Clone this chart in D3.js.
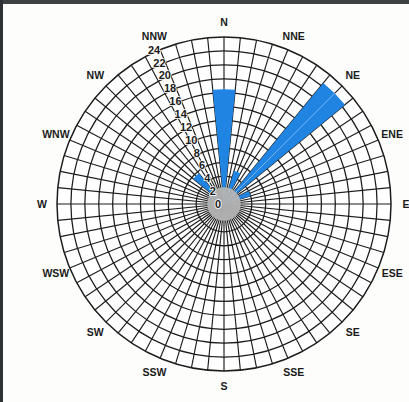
<!DOCTYPE html>
<html>
<head>
<meta charset="utf-8">
<script src="https://cdn.jsdelivr.net/npm/d3@7"></script>
<style>
  html, body { margin: 0; padding: 0; background: #fdfdfb; }
  svg { display: block; }
  text { font-family: "Liberation Sans", Arial, sans-serif; font-weight: bold; fill: #1a1a1a; }
</style>
</head>
<body>
<svg id="rose" width="409" height="402"></svg>
<script>
// Compass points, clockwise from north
const directions = ["N", "NNE", "NE", "ENE", "E", "ESE", "SE", "SSE",
                    "S", "SSW", "SW", "WSW", "W", "WNW", "NW", "NNW"];
// Frequency per direction (%)
const bearings = [0, 22.5, 45, 67.5, 315];
const frequencies = [16.5, 5, 22.5, 4, 5.7];
// Radial tick labels
const radialTicks = [0, 2, 4, 6, 8, 10, 12, 14, 16, 18, 20, 22, 24];

const W = 409, H = 402;
const cx = 224, cy = 204, R = 167;
const spokeCount = 64;
const barWidthDeg = 11.25;

const svg = d3.select("#rose");

// scanned-page edges
svg.append("rect").attr("width", W).attr("height", H).attr("fill", "#fdfdfb");
svg.append("rect").attr("x", 0).attr("y", 0).attr("width", W).attr("height", 4).attr("fill", "#3d4144");
svg.append("rect").attr("x", 0).attr("y", 0).attr("width", 3).attr("height", H).attr("fill", "#2e3235");

const r = d3.scaleLinear().domain([0, 24]).range([0, R]);
const toRad = d => d * Math.PI / 180;

const g = svg.append("g").attr("transform", `translate(${cx},${cy})`);

// white plot disc
g.append("circle").attr("r", R).attr("fill", "#ffffff");

// spokes
const spokes = d3.range(spokeCount).map(i => i * 360 / spokeCount);
g.selectAll("line.spoke")
  .data(spokes)
  .join("line")
  .attr("class", "spoke")
  .attr("x1", 0).attr("y1", 0)
  .attr("x2", d => r(24) * Math.sin(toRad(d)))
  .attr("y2", d => -r(24) * Math.cos(toRad(d)))
  .attr("stroke", "#1c1c1c")
  .attr("stroke-width", 1.15);

// rings
g.selectAll("circle.ring")
  .data(radialTicks.filter(t => t > 0))
  .join("circle")
  .attr("class", "ring")
  .attr("r", d => r(d))
  .attr("fill", "none")
  .attr("stroke", "#1c1c1c")
  .attr("stroke-width", d => d === 24 ? 1.5 : 1.25);

// bars, drawn over the grid
const arc = d3.arc();
g.selectAll("path.bar")
  .data(bearings.map((b, i) => ({ b, v: frequencies[i] })))
  .join("path")
  .attr("class", "bar")
  .attr("d", d => arc({
    innerRadius: 0,
    outerRadius: r(d.v),
    startAngle: toRad(d.b - barWidthDeg / 2),
    endAngle: toRad(d.b + barWidthDeg / 2)
  }))
  .attr("fill", "#1f84e2");

// faint centre line of the NE bar
g.append("line")
  .attr("x1", 0).attr("y1", 0)
  .attr("x2", r(frequencies[2]) * Math.sin(toRad(45)))
  .attr("y2", -r(frequencies[2]) * Math.cos(toRad(45)))
  .attr("stroke", "#8fbde8").attr("stroke-width", 0.8);

// calm centre
g.append("circle").attr("r", r(2.4)).attr("fill", "#b8b8b8").attr("opacity", 0.92);

// radial tick labels along NNW
const la = toRad(337.5);
g.selectAll("text.tick")
  .data(radialTicks)
  .join("text")
  .attr("class", "tick")
  .attr("x", d => r(d) * Math.sin(la) - 6)
  .attr("y", d => -r(d) * Math.cos(la))
  .attr("dy", "0.36em")
  .attr("text-anchor", "middle")
  .attr("font-size", 11)
  .attr("stroke", "#ffffff")
  .attr("stroke-width", 1.6)
  .attr("paint-order", "stroke")
  .text(d => d);

// compass labels
const labelR = 182;
g.selectAll("text.dir")
  .data(directions)
  .join("text")
  .attr("class", "dir")
  .attr("x", (d, i) => labelR * Math.sin(toRad(i * 22.5)))
  .attr("y", (d, i) => -labelR * Math.cos(toRad(i * 22.5)))
  .attr("dy", "0.36em")
  .attr("text-anchor", "middle")
  .attr("font-size", 10.5)
  .text(d => d);
</script>
</body>
</html>
